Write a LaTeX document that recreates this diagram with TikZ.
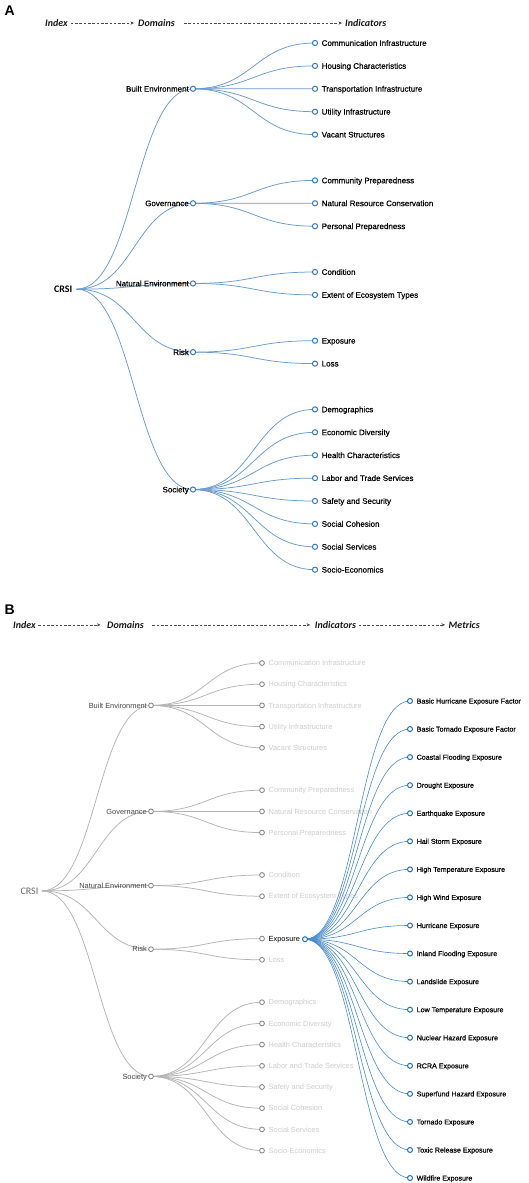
\documentclass[tikz,border=0pt]{standalone}
\usepackage{fontspec}
\setmainfont{Liberation Sans}
\newfontfamily\heavy[FakeBold=0.45]{Liberation Sans}
\newfontfamily\cali{Carlito}
\usetikzlibrary{backgrounds,arrows.meta,calc}
\definecolor{steel}{RGB}{55,120,185}
\definecolor{linkA}{RGB}{105,155,205}
\definecolor{linkG}{RGB}{180,180,180}
\definecolor{dotGc}{RGB}{140,140,140}
\definecolor{txtG}{RGB}{205,205,205}
\definecolor{domG}{RGB}{70,70,70}
\definecolor{crsiG}{RGB}{105,105,105}
\definecolor{linkMc}{RGB}{75,140,205}
\definecolor{dotMc}{RGB}{35,110,190}
\definecolor{hdrG}{RGB}{75,75,75}
\newcommand\diag[3][]{\draw[#1] let \p1=(#2),\p2=(#3) in (\p1) .. controls ({(\x1+\x2)/2},\y1) and ({(\x1+\x2)/2},\y2) .. (\p2);}
\begin{document}
\begin{tikzpicture}[x=1pt,y=-1pt,
  hdr/.style={font=\cali\bfseries\itshape\fontsize{10}{12}\selectfont, inner sep=0pt, anchor=base west, text=black!90},
  harr/.style={draw=hdrG, line width=0.6pt, dash pattern=on 2.6pt off 1.7pt, -{Stealth[length=3.6pt,width=3.2pt]}},
  panel/.style={font=\bfseries\fontsize{14}{16}\selectfont, inner sep=0pt, anchor=base west},
  dotA/.style={circle, draw=steel, line width=1pt, fill=white, minimum size=5.2pt, inner sep=0pt},
  lblA/.style={font=\heavy\fontsize{8}{9}\selectfont, inner sep=0pt, text height=5.7pt, text depth=0pt, text=black},
  lnkA/.style={draw=linkA, line width=0.75pt},
  dotG/.style={circle, draw=dotGc, line width=0.9pt, fill=white, minimum size=4.8pt, inner sep=0pt},
  lblB/.style={font=\fontsize{7.4}{9}\selectfont, inner sep=0pt, text height=5.3pt, text depth=0pt},
  lnkG/.style={draw=linkG, line width=0.75pt},
  dotM/.style={circle, draw=dotMc, line width=1pt, fill=white, minimum size=5pt, inner sep=0pt},
  lblM/.style={font=\heavy\fontsize{7.1}{9}\selectfont, inner sep=0pt, text height=5.1pt, text depth=0pt, text=black},
  lnkM/.style={draw=linkMc, line width=0.6pt},
  crsi/.style={font=\cali\fontsize{10}{12}\selectfont, inner sep=0pt, anchor=east, text height=6.4pt, text depth=0pt},
]
\useasboundingbox (0,0) rectangle (529,1183);
\begin{pgfonlayer}{background}
\fill[white] (0,0) rectangle (529,1183);
\end{pgfonlayer}

% ---------------- Panel A ----------------
\node[panel] (pA) at (4.5,15) {A};
\node[hdr] (hiA) at (45,26.5) {Index};
\node[hdr] (hdA) at (138,26.5) {Domains};
\node[hdr] (hnA) at (345,26.5) {Indicators};
\draw[harr] ([xshift=3pt]hiA.east) -- ([xshift=-4pt]hdA.west);
\draw[harr] ([xshift=9pt]hdA.east) -- ([xshift=-3pt]hnA.west);

\node[crsi, text=black, font=\cali\bfseries\fontsize{10}{12}\selectfont] (crsiA) at (72.5,289.2) {CRSI};
\coordinate (rootA) at (76.5,289.2);

\foreach \nm/\y/\txt in {beA/88.8/Built Environment, goA/203.3/Governance, neA/283.45/Natural Environment, riA/352.15/Risk, soA/489.55/Society}{
  \node[dotA] (\nm) at (193,\y) {};
  \node[lblA, anchor=east] (\nm L) at (189,\y) {\txt};
  \begin{pgfonlayer}{background}\diag[lnkA]{rootA}{\nm}\end{pgfonlayer}
}

\foreach \s/\pp/\txt [count=\k] in {0/beA/Communication Infrastructure, 1/beA/Housing Characteristics, 2/beA/Transportation Infrastructure, 3/beA/Utility Infrastructure, 4/beA/Vacant Structures, 6/goA/Community Preparedness, 7/goA/Natural Resource Conservation, 8/goA/Personal Preparedness, 10/neA/Condition, 11/neA/Extent of Ecosystem Types, 13/riA/Exposure, 14/riA/Loss, 16/soA/Demographics, 17/soA/Economic Diversity, 18/soA/Health Characteristics, 19/soA/Labor and Trade Services, 20/soA/Safety and Security, 21/soA/Social Cohesion, 22/soA/Social Services, 23/soA/Socio-Economics}{
  \pgfmathsetmacro\yy{43+22.9*\s}
  \node[dotA] (iA\k) at (315,\yy) {};
  \node[lblA, anchor=west] (iA\k L) at (321.5,\yy) {\txt};
  \begin{pgfonlayer}{background}\diag[lnkA]{\pp}{iA\k}\end{pgfonlayer}
}

% ---------------- Panel B ----------------
\node[panel] (pB) at (4.5,614) {B};
\node[hdr] (hiB) at (13,628.3) {Index};
\node[hdr] (hdB) at (107,628.3) {Domains};
\node[hdr] (hnB) at (314.7,628.3) {Indicators};
\node[hdr] (hmB) at (448.5,628.3) {Metrics};
\draw[harr] ([xshift=2.5pt]hiB.east) -- ([xshift=-6.5pt]hdB.west);
\draw[harr] ([xshift=8.5pt]hdB.east) -- ([xshift=-4.5pt]hnB.west);
\draw[harr] ([xshift=2.6pt]hnB.east) -- ([xshift=-3.4pt]hmB.west);

\node[crsi, text=crsiG] (crsiB) at (38.5,890.9) {CRSI};
\coordinate (rootB) at (42,890.9);

\foreach \nm/\y/\txt in {beB/705.4/Built Environment, goB/811.4/Governance, neB/885.6/Natural Environment, riB/949.2/Risk, soB/1076.4/Society}{
  \node[dotG] (\nm) at (151,\y) {};
  \node[lblB, anchor=east, text=domG] (\nm L) at (147,\y) {\txt};
  \begin{pgfonlayer}{background}\diag[lnkG]{rootB}{\nm}\end{pgfonlayer}
}

\foreach \s/\pp/\cc/\txt [count=\k] in {0/beB/txtG/Communication Infrastructure, 1/beB/txtG/Housing Characteristics, 2/beB/txtG/Transportation Infrastructure, 3/beB/txtG/Utility Infrastructure, 4/beB/txtG/Vacant Structures, 6/goB/txtG/Community Preparedness, 7/goB/txtG/Natural Resource Conservation, 8/goB/txtG/Personal Preparedness, 10/neB/txtG/Condition, 11/neB/txtG/Extent of Ecosystem Types, 13/riB/black/Exposure, 14/riB/txtG/Loss, 16/soB/txtG/Demographics, 17/soB/txtG/Economic Diversity, 18/soB/txtG/Health Characteristics, 19/soB/txtG/Labor and Trade Services, 20/soB/txtG/Safety and Security, 21/soB/txtG/Social Cohesion, 22/soB/txtG/Social Services, 23/soB/txtG/Socio-Economics}{
  \pgfmathsetmacro\yy{663+21.2*\s}
  \node[dotG] (iB\k) at (262,\yy) {};
  \begin{pgfonlayer}{background}
    \node[lblB, anchor=west, text=\cc] (iB\k L) at (268.5,\yy) {\txt};
    \diag[lnkG]{\pp}{iB\k}
  \end{pgfonlayer}
}

\node[dotM] (expB) at (305,939.2) {};

\foreach \txt [count=\k from 0] in {Basic Hurricane Exposure Factor, Basic Tornado Exposure Factor, Coastal Flooding Exposure, Drought Exposure, Earthquake Exposure, Hail Storm Exposure, High Temperature Exposure, High Wind Exposure, Hurricane Exposure, Inland Flooding Exposure, Landslide Exposure, Low Temperature Exposure, Nuclear Hazard Exposure, RCRA Exposure, Superfund Hazard Exposure, Tornado Exposure, Toxic Release Exposure, Wildfire Exposure}{
  \pgfmathsetmacro\yy{701+28.06*\k}
  \node[dotM] (m\k) at (410,\yy) {};
  \node[lblM, anchor=west] (m\k L) at (416.5,\yy) {\txt};
  \begin{pgfonlayer}{background}\diag[lnkM]{expB}{m\k}\end{pgfonlayer}
}
\end{tikzpicture}
\end{document}
